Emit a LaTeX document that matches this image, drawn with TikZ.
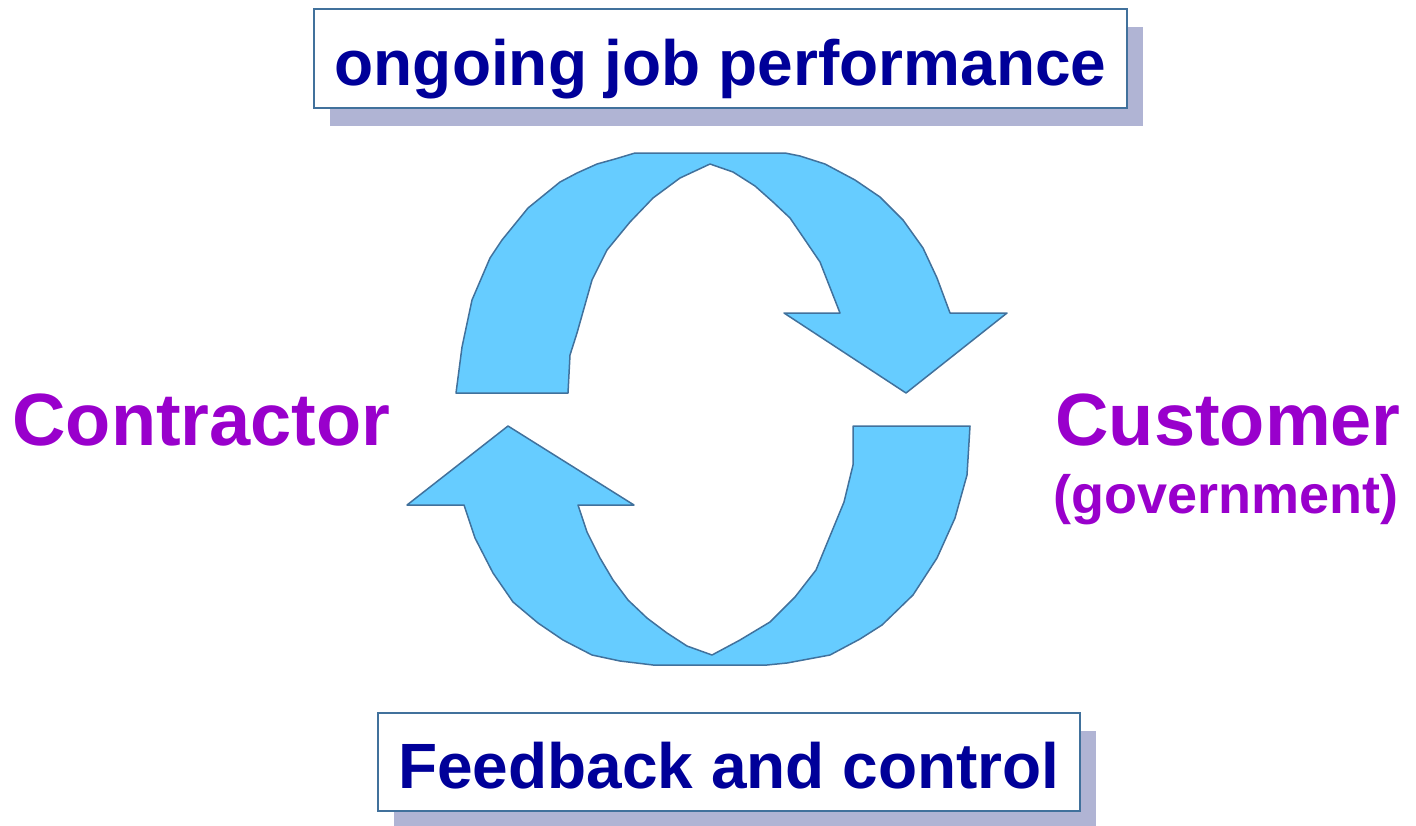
\documentclass[tikz,border=0pt]{standalone}
\usepackage{fontspec}
\setmainfont{Liberation Sans}
\usetikzlibrary{shadows}
\definecolor{navytext}{RGB}{0,0,153}
\definecolor{violettext}{RGB}{153,0,204}
\definecolor{frameblue}{RGB}{65,113,156}
\definecolor{shadowgray}{RGB}{176,180,212}
\definecolor{arrowfill}{RGB}{102,204,255}
\tikzset{
  labelbox/.style={draw=frameblue, line width=0.75pt, fill=white, text=navytext,
    font=\bfseries\fontsize{32}{38}\selectfont, text height=30pt, text depth=3.5pt,
    drop shadow={shadow xshift=8pt, shadow yshift=-9pt, fill=shadowgray, opacity=1}},
  party/.style={text=violettext, font=\bfseries\fontsize{37}{44}\selectfont,
    inner sep=0pt, anchor=base west},
  cyclearrow/.style={draw=frameblue, line width=0.75pt, fill=arrowfill, line join=round}
}

\begin{document}
\begin{tikzpicture}[x=0.5pt,y=-0.5pt]
    \useasboundingbox (0,0) rectangle (1416,825);
    \node[labelbox, minimum width=406.5pt, minimum height=49.5pt] (perf) at (720.5,58.5) {ongoing job performance};
    \node[labelbox, minimum width=351pt, minimum height=49pt] (feedback) at (729,762) {Feedback and control};

    \draw[cyclearrow] (456,393) -- (462,347) -- (472,300) -- (490,258) -- (502,240) -- (528,208)
        -- (560,182) -- (577,173) -- (597,164) -- (615,159) -- (635,153) -- (785,153) -- (800,156)
        -- (825,164) -- (855,180) -- (880,197) -- (903,220) -- (923,248) -- (937,278) -- (950,313)
        -- (1007,313) -- (906,393) -- (784,313) -- (840,313) -- (820,262) -- (803,237) -- (790,218)
        -- (773,202) -- (755,186) -- (733,172) -- (710,164) -- (695,171) -- (680,178) -- (653,198)
        -- (630,222) -- (607,250) -- (592,280) -- (577,333) -- (570,355) -- (568,393) -- cycle;
    \draw[cyclearrow] (970,426) -- (967,475) -- (955,518) -- (937,558) -- (913,595) -- (882,625)
        -- (860,639) -- (830,655) -- (787,663) -- (767,665) -- (653,665) -- (620,661) -- (592,655)
        -- (563,640) -- (538,623) -- (513,602) -- (493,573) -- (475,538) -- (464,505) -- (407,505)
        -- (508,426) -- (634,505) -- (578,505) -- (587,532) -- (600,558) -- (613,580) -- (628,600)
        -- (647,618) -- (667,633) -- (687,646) -- (712,655) -- (740,640) -- (770,622) -- (795,597)
        -- (816,570) -- (844,502) -- (853,465) -- (853,426) -- cycle;

    \node[party] (contractor) at (12,445) {Contractor};
    \node[party] (customer) at (1055,445) {Customer};
    \node[party, font=\bfseries\fontsize{27}{32}\selectfont] (government) at (1053,513) {(government)};
\end{tikzpicture}
\end{document}
